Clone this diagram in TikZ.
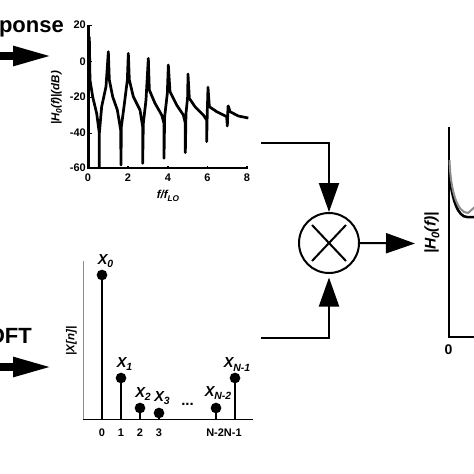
\documentclass[tikz,border=0pt]{standalone}
\usepackage{fontspec}
\setmainfont{Liberation Sans}
\usetikzlibrary{arrows.meta, positioning, calc}
\definecolor{cPlotGray}{rgb}{0.55, 0.55, 0.55}
\newcommand{\lowsub}[1]{\raisebox{-0.45ex}{\scalebox{0.72}{#1}}}

\begin{document}
\begin{tikzpicture}[x=1pt, y=-1pt,
    title/.style={font=\bfseries\fontsize{22}{22}\selectfont, inner sep=0pt},
    tick/.style={font=\bfseries\fontsize{11}{11}\selectfont, inner sep=0pt},
    axlabel/.style={font=\bfseries\itshape\fontsize{11.5}{12}\selectfont, inner sep=0pt},
    coef/.style={font=\bfseries\itshape\fontsize{14.5}{14}\selectfont, inner sep=0pt},
    dot/.style={circle, fill=black, minimum size=10.7pt, inner sep=0pt},
    bigarrow/.style={-{Triangle[length=40pt, width=18pt]}, line width=8pt},
    sigarrow/.style={-{Triangle[length=29pt, width=20pt]}, line width=2pt},
    curve/.style={line width=2.7pt, line join=round},
    stem/.style={line width=2.3pt}
]
\useasboundingbox (0,0) rectangle (474,474);

% Top input
\node[title, anchor=east] (resp) at (64,29) {ponse};
\coordinate (respIn) at (-2,56);
\coordinate (respOut) at (53,56);
\draw[bigarrow] (respIn) -- (respOut);

% Frequency response plot
\coordinate (hOrigin) at (88.5,168);
\coordinate (hTop) at (88.5,25);
\coordinate (hEnd) at (248,168);
\draw[line width=2.3pt] (hTop) -- (hOrigin) -- (hEnd);
\foreach \yy/\lab in {25/20, 61.5/0, 97/-20, 133/-40, 168/-60} {
  \node[tick, anchor=east] (ht\lab) at (86,\yy) {\lab};
  \draw[line width=1pt] (88.5,\yy) -- (92,\yy);
}
\foreach \xx/\lab in {88/0, 128/2, 168/4, 207.5/6, 247/8} {
  \node[tick] (hx\lab) at (\xx,178) {\lab};
  \draw[line width=1.5pt] (\xx,168) -- (\xx,165.5);
}
\node[axlabel, rotate=90] (hyl) at (56.5,98) {|H\lowsub{0}(f)|(dB)};
\node[axlabel] (hxl) at (168,196) {f/f\lowsub{LO}};

% Curve
\begin{scope}[x=1pt/3, y=-1pt/3]
\clip (262,60) rectangle (760,505);
\draw[curve] (268,110) -- (270,240) -- (278,290) -- (290,340) -- (298,400) -- (298,505) -- (298,400)
  -- (305,320) -- (318,260) -- (325,155) -- (328,240) -- (338,290) -- (352,330) -- (362,390)
  -- (363,495) -- (364,380) -- (372,320) -- (382,240) -- (385,160) -- (388,240) -- (400,290)
  -- (420,330) -- (428,380) -- (428,490) -- (430,370) -- (438,300) -- (445,175) -- (448,270)
  -- (465,310) -- (485,345) -- (492,370) -- (492,475) -- (494,350) -- (502,280) -- (505,195)
  -- (510,275) -- (530,315) -- (550,345) -- (556,370) -- (556,458) -- (558,340) -- (563,290)
  -- (564,222) -- (568,295) -- (585,320) -- (610,345) -- (620,360) -- (620,425) -- (622,330)
  -- (624,262) -- (628,320) -- (650,335) -- (680,350) -- (682,378) -- (684,320) -- (685,318)
  -- (690,335) -- (715,348) -- (745,354);
\end{scope}

% Bottom input
\node[title, anchor=east] (dft) at (32,336) {DFT};
\coordinate (dftIn) at (-2,367);
\coordinate (dftOut) at (53,367);
\draw[bigarrow] (dftIn) -- (dftOut);

% DFT stem plot
\coordinate (xTop) at (83,261);
\coordinate (xOrigin) at (83,419);
\coordinate (xEnd) at (253,419);
\draw[line width=0.7pt, cPlotGray] (xTop) -- (xOrigin);
\draw[line width=1pt] (xOrigin) -- (xEnd);
\node[axlabel, rotate=90] (xyl) at (71.5,341) {|X[n]|};
\foreach \name/\xx/\yy in {a/102/275, b/121/378, c/140/408, d/159/413, e/216/408, f/235/378} {
  \node[dot] (\name) at (\xx,\yy) {};
  \draw[stem] (\name.center) -- (\xx,419);
}
\node[coef] (x0) at (105.5,261) {X\lowsub{0}};
\node[coef] (x1) at (124.5,364) {X\lowsub{1}};
\node[coef] (x2) at (143,394) {X\lowsub{2}};
\node[coef] (x3) at (162,398) {X\lowsub{3}};
\node[coef] (xn2) at (218,393) {X\lowsub{N-2}};
\node[coef] (xn1) at (237,364.5) {X\lowsub{N-1}};
\node[tick, font=\bfseries\fontsize{15}{15}\selectfont] (dots) at (187.5,404) {...};
\foreach \xx/\lab in {102/0, 121/1, 140/2, 159/3} {
  \node[tick] (xt\lab) at (\xx,433) {\lab};
}
\node[tick] (xtn) at (224,433) {N-2N-1};

% Mixer
\node[circle, draw, line width=2pt, minimum size=60pt, inner sep=0pt] (mix) at (329,243) {};
\draw[line width=2pt] (mix.center) ++(-17,-18) -- ++(34,36);
\draw[line width=2pt] (mix.center) ++(17,-18) -- ++(-34,36);
\coordinate (topIn) at (261,143);
\coordinate (botIn) at (261,338);
\coordinate (outEnd) at (415,243.5);
\draw[sigarrow] (topIn) -| (mix.north);
\draw[sigarrow, shorten >=3.5pt] (botIn) -| (mix.south);
\draw[sigarrow] (mix.east) -- (outEnd);

% Output plot
\coordinate (yTop) at (449,127);
\coordinate (yOrigin) at (449,337);
\coordinate (yEnd) at (476,337);
\draw[line width=2.2pt] (yTop) -- (yOrigin) -- (yEnd);
\node[axlabel, font=\bfseries\itshape\fontsize{15.5}{16}\selectfont, rotate=90] (yyl) at (432,233) {|H\lowsub{0}(f)|};
\node[tick, font=\bfseries\fontsize{14}{14}\selectfont] (y0) at (448.5,349.5) {0};
\draw[line width=2.5pt] (449.5,175) .. controls (452,200) and (458,217) .. (467,217) -- (476,217);
\draw[line width=2pt, cPlotGray] (449.5,160) .. controls (450.5,190) and (457,213) .. (468,213) -- (476,206);
\end{tikzpicture}
\end{document}
